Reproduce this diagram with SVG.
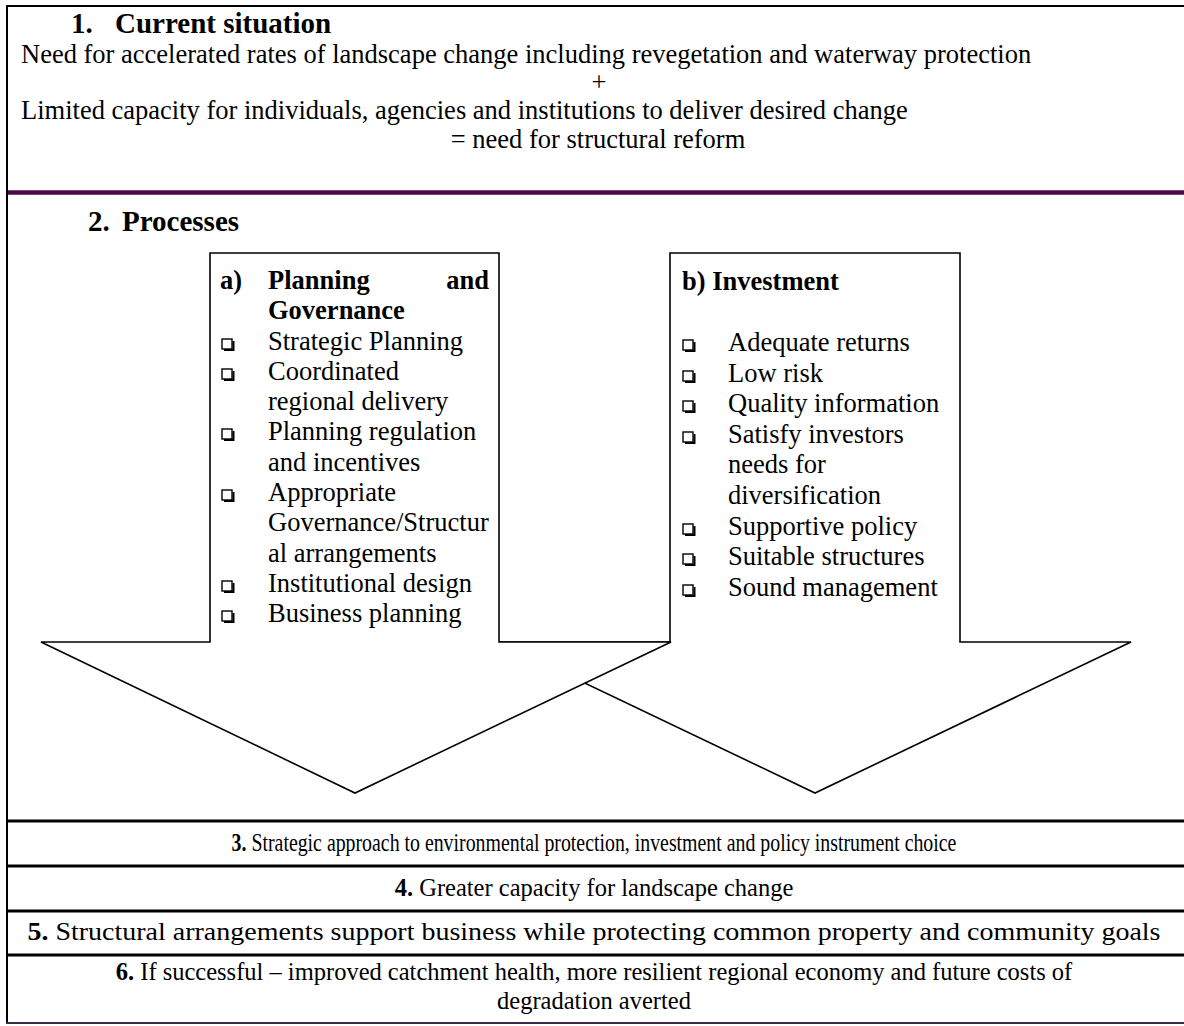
<svg xmlns="http://www.w3.org/2000/svg" width="1184" height="1026" viewBox="0 0 1184 1026">
  <style>
    text { font-family: "Liberation Serif", "Times New Roman", serif; fill: #000; }
    .title { font-size: 29px; font-weight: bold; }
    .body { font-size: 26.5px; }
    .bold { font-weight: bold; }
    .row { font-size: 24.5px; text-anchor: middle; }
    .mid { text-anchor: middle; }
    .end { text-anchor: end; }
    .arrow { fill: #fff; stroke: #000; stroke-width: 1.6; stroke-linejoin: miter; }
    .rule { stroke: #000; stroke-width: 3; fill: none; }
    .edge { stroke: #000; stroke-width: 2; fill: none; }
  </style>
  <defs>
    <!-- shadowed square bullet -->
    <g id="bullet">
      <rect x="1" y="1" width="10" height="10" fill="#fff" stroke="#000" stroke-width="1.4"/>
      <path d="M3 12 H12.5 V3" fill="none" stroke="#000" stroke-width="2"/>
    </g>
  </defs>

  <rect x="0" y="0" width="1184" height="1026" fill="#fff"/>

  <!-- outer frame -->
  <g id="frame">
    <line class="edge" x1="6" y1="6" x2="1184" y2="6" stroke-width="2.5"/>
    <line class="edge" x1="7" y1="5" x2="7" y2="1024"/>
    <line x1="8" y1="192.5" x2="1184" y2="192.5" stroke="#4b0a44" stroke-width="4.5"/>
    <line x1="6" y1="1023" x2="1184" y2="1023" stroke="#3a2a48" stroke-width="2"/>
  </g>

  <!-- 1. current situation -->
  <g id="current-situation">
    <text class="title" y="33"><tspan x="71">1.</tspan><tspan x="115">Current situation</tspan></text>
    <text class="body" x="21" y="63">Need for accelerated rates of landscape change including revegetation and waterway protection</text>
    <text class="body mid" x="599" y="91">+</text>
    <text class="body" x="21" y="119">Limited capacity for individuals, agencies and institutions to deliver desired change</text>
    <text class="body mid" x="598" y="148">= need for structural reform</text>
  </g>

  <!-- 2. processes heading -->
  <g id="processes-title">
    <text class="title" y="231"><tspan x="88">2.</tspan><tspan x="122">Processes</tspan></text>
  </g>

  <!-- block arrows -->
  <g id="arrows">
    <polygon id="arrow-investment" class="arrow" points="670,253 960,253 960,642 1131,642 815,793 499,642 670,642"/>
    <polygon id="arrow-planning" class="arrow" points="210,253 499,253 499,642 671,642 355,793 41,642 210,642"/>
  </g>

  <!-- a) planning and governance -->
  <g id="planning-governance" class="body">
    <text class="bold" x="220" y="289">a)</text>
    <text class="bold" x="268" y="289">Planning</text>
    <text class="bold end" x="489" y="289">and</text>
    <text class="bold" x="268" y="319">Governance</text>
    <use href="#bullet" x="221" y="338"/>
    <text x="268" y="350">Strategic Planning</text>
    <use href="#bullet" x="221" y="368"/>
    <text x="268" y="380">Coordinated</text>
    <text x="268" y="410">regional delivery</text>
    <use href="#bullet" x="221" y="428"/>
    <text x="268" y="440">Planning regulation</text>
    <text x="268" y="471">and incentives</text>
    <use href="#bullet" x="221" y="489"/>
    <text x="268" y="501">Appropriate</text>
    <text x="268" y="531">Governance/Structur</text>
    <text x="268" y="562">al arrangements</text>
    <use href="#bullet" x="221" y="580"/>
    <text x="268" y="592">Institutional design</text>
    <use href="#bullet" x="221" y="610"/>
    <text x="268" y="622">Business planning</text>
  </g>

  <!-- b) investment -->
  <g id="investment" class="body">
    <text class="bold" x="682" y="290">b) Investment</text>
    <use href="#bullet" x="682" y="339"/>
    <text x="728" y="351">Adequate returns</text>
    <use href="#bullet" x="682" y="370"/>
    <text x="728" y="382">Low risk</text>
    <use href="#bullet" x="682" y="400"/>
    <text x="728" y="412">Quality information</text>
    <use href="#bullet" x="682" y="431"/>
    <text x="728" y="443">Satisfy investors</text>
    <text x="728" y="473">needs for</text>
    <text x="728" y="504">diversification</text>
    <use href="#bullet" x="682" y="523"/>
    <text x="728" y="535">Supportive policy</text>
    <use href="#bullet" x="682" y="553"/>
    <text x="728" y="565">Suitable structures</text>
    <use href="#bullet" x="682" y="584"/>
    <text x="728" y="596">Sound management</text>
  </g>

  <!-- outcome rows -->
  <g id="outcomes">
    <line class="rule" x1="7" y1="821" x2="1184" y2="821"/>
    <line class="rule" x1="7" y1="866" x2="1184" y2="866"/>
    <line class="rule" x1="7" y1="911" x2="1184" y2="911"/>
    <line class="rule" x1="7" y1="955" x2="1184" y2="955"/>
    <g transform="translate(594 851) scale(0.81 1)">
      <text id="outcome-3" class="row" x="0" y="0"><tspan class="bold">3.</tspan> Strategic approach to environmental protection, investment and policy instrument choice</text>
    </g>
    <text id="outcome-4" class="row" x="594" y="896"><tspan class="bold">4.</tspan> Greater capacity for landscape change</text>
    <g transform="translate(594 940) scale(1.077 1)">
      <text id="outcome-5" class="row" x="0" y="0" style="font-size:26px"><tspan class="bold">5.</tspan> Structural arrangements support business while protecting common property and community goals</text>
    </g>
    <text id="outcome-6" class="row" x="594" y="980"><tspan class="bold">6.</tspan> If successful –  improved catchment health, more resilient regional economy and future costs of</text>
    <text class="row" x="594" y="1009">degradation averted</text>
  </g>
</svg>
